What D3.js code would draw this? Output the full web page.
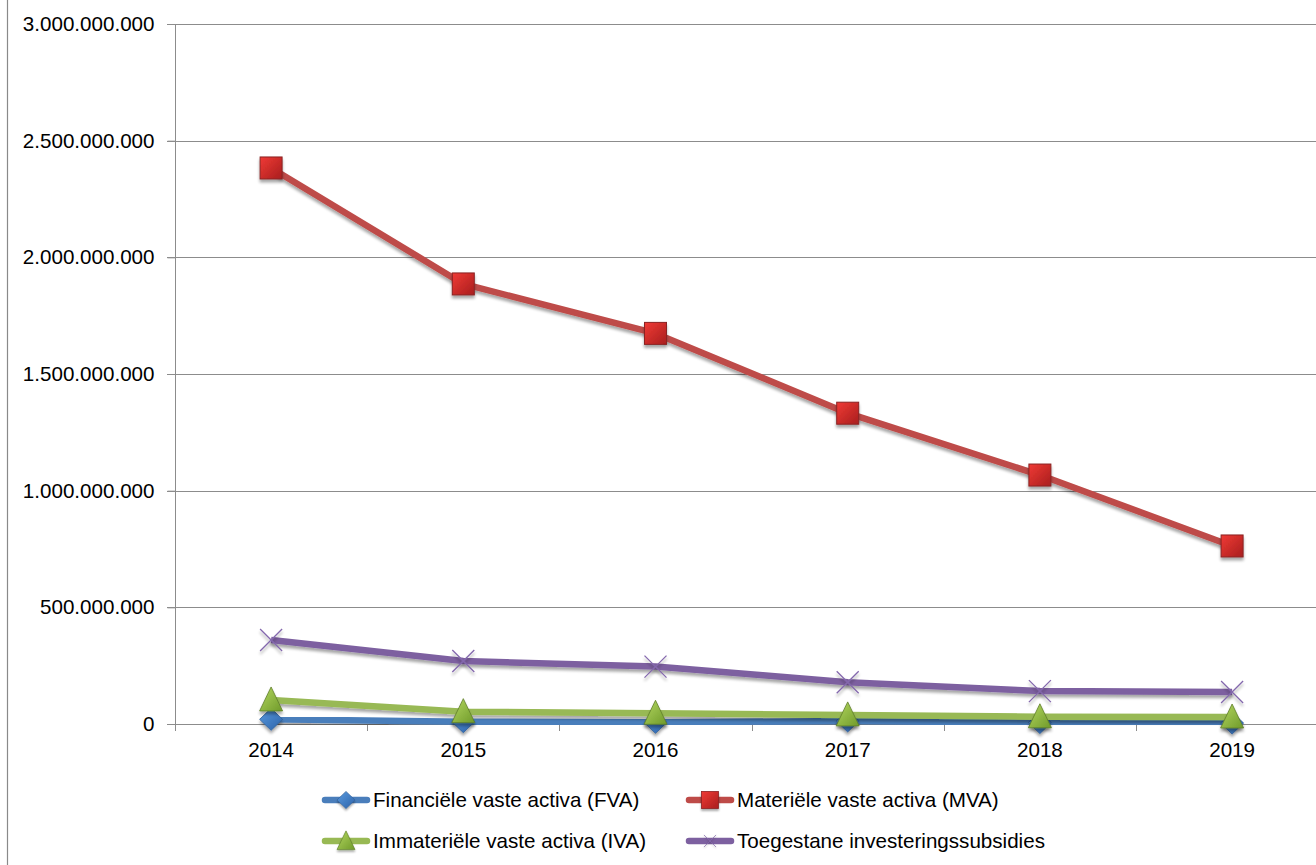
<!DOCTYPE html>
<html>
<head>
<meta charset="utf-8">
<script src="https://cdn.jsdelivr.net/npm/d3@7"></script>
<style>
  html, body { margin: 0; padding: 0; background: #fff; }
  svg { display: block; font-family: "Liberation Sans", Arial, sans-serif; }
</style>
</head>
<body>
<svg id="chart" width="1316" height="865"></svg>
<script>
// ---------- data ----------
const years = ["2014", "2015", "2016", "2017", "2018", "2019"];
const fva = [20000000, 10000000, 7000000, 13000000, 6000000, 4000000];
const mva = [2383000000, 1886000000, 1674000000, 1332000000, 1067000000, 763000000];
const iva = [103000000, 53000000, 46000000, 39000000, 31000000, 30000000];
const subsidies = [360000000, 270000000, 246000000, 179000000, 141000000, 137000000];
const yTicks = [0, 500000000, 1000000000, 1500000000, 2000000000, 2500000000, 3000000000];
const seriesNames = ["Financiële vaste activa (FVA)", "Materiële vaste activa (MVA)", "Immateriële vaste activa (IVA)", "Toegestane investeringssubsidies"];

// ---------- setup ----------
const svg = d3.select("#chart");
const W = 1316, H = 865;
const plotLeft = 175, plotTop = 24, plotBottom = 724;
const band = 192.2;
const FS = 20.6;

const x = d3.scaleBand().domain(years).range([plotLeft, plotLeft + band * years.length]).paddingInner(0).paddingOuter(0);
const y = d3.scaleLinear().domain([0, 3000000000]).range([plotBottom, plotTop]);
const nl = d3.formatLocale({decimal: ",", thousands: ".", grouping: [3], currency: ["", ""]});
const fmt = nl.format(",d");

const defs = svg.append("defs");
const sh = defs.append("filter").attr("id", "shadow").attr("x", "-50%").attr("y", "-50%").attr("width", "200%").attr("height", "200%");
sh.append("feGaussianBlur").attr("in", "SourceAlpha").attr("stdDeviation", 1.6);
sh.append("feOffset").attr("dx", 0).attr("dy", 2.5).attr("result", "ob");
sh.append("feComponentTransfer").append("feFuncA").attr("type", "linear").attr("slope", 0.35);
const fm = sh.append("feMerge"); fm.append("feMergeNode"); fm.append("feMergeNode").attr("in", "SourceGraphic");

function grad(id, c1, c2) {
  const g = defs.append("linearGradient").attr("id", id).attr("x1", "0").attr("y1", "0").attr("x2", "1").attr("y2", "1");
  g.append("stop").attr("offset", "0%").attr("stop-color", c1);
  g.append("stop").attr("offset", "100%").attr("stop-color", c2);
}
grad("gRed", "#f03a35", "#a81e1e");
grad("gBlue", "#5a9be0", "#2c62a8");
grad("gGreen", "#b4d760", "#6f9a2a");

// left border
svg.append("line").attr("x1", 7.5).attr("x2", 7.5).attr("y1", 0).attr("y2", H).attr("stroke", "#8a8a8a").attr("stroke-width", 1.2);

// gridlines
svg.append("g").selectAll("line").data(yTicks).join("line")
  .attr("x1", plotLeft - 8).attr("x2", W)
  .attr("y1", d => Math.round(y(d)) + 0.5).attr("y2", d => Math.round(y(d)) + 0.5)
  .attr("stroke", "#8c8c8c").attr("stroke-width", 1);

// y axis
const yAxis = d3.axisLeft(y).tickValues(yTicks).tickFormat(fmt).tickSize(8).tickPadding(13);
const gy = svg.append("g").attr("transform", `translate(${plotLeft + 0.5},0)`).call(yAxis);
gy.select(".domain").remove();
gy.selectAll(".tick line").attr("stroke", "#8c8c8c");
gy.selectAll("text").attr("font-size", FS).attr("fill", "#000").attr("font-family", "Liberation Sans, Arial, sans-serif");
svg.append("line").attr("x1", plotLeft + 0.5).attr("x2", plotLeft + 0.5).attr("y1", plotTop).attr("y2", plotBottom + 7).attr("stroke", "#8c8c8c");

// x axis labels
const xAxis = d3.axisBottom(x).tickSize(0).tickPadding(18);
const gx = svg.append("g").attr("transform", `translate(0,${plotBottom})`).call(xAxis);
gx.select(".domain").remove();
gx.selectAll("text").attr("font-size", FS).attr("fill", "#000").attr("font-family", "Liberation Sans, Arial, sans-serif");
// x boundary ticks
svg.append("g").selectAll("line").data(years.slice(1)).join("line")
  .attr("x1", d => Math.round(x(d)) + 0.5).attr("x2", d => Math.round(x(d)) + 0.5)
  .attr("y1", plotBottom).attr("y2", plotBottom + 7).attr("stroke", "#8c8c8c");

// ---------- series ----------
const cx = d => x(d) + x.bandwidth() / 2;
const series = [
  {name: seriesNames[0], values: fva, color: "#4a7ebb", marker: "diamond"},
  {name: seriesNames[1], values: mva, color: "#be4b48", marker: "square"},
  {name: seriesNames[2], values: iva, color: "#98b954", marker: "triangle"},
  {name: seriesNames[3], values: subsidies, color: "#7d60a0", marker: "x"}
];

function drawMarker(g, type, px, py, scale = 1) {
  const m = g.append("g").attr("transform", `translate(${px},${py}) scale(${scale})`).attr("filter", "url(#shadow)");
  if (type === "square") {
    m.append("rect").attr("x", -11).attr("y", -11).attr("width", 22).attr("height", 22)
      .attr("fill", "url(#gRed)").attr("stroke", "#8a2323").attr("stroke-width", 1);
  } else if (type === "diamond") {
    m.append("path").attr("d", "M0,-11 L11.5,0 L0,11 L-11.5,0 Z")
      .attr("fill", "url(#gBlue)").attr("stroke", "#2f5e98").attr("stroke-width", 0.8);
  } else if (type === "triangle") {
    m.append("path").attr("d", "M0,-13 L11.5,11 L-11.5,11 Z")
      .attr("fill", "url(#gGreen)").attr("stroke", "#5f7f2a").attr("stroke-width", 0.8);
  } else if (type === "x") {
    m.append("path").attr("d", "M-11,-11 L11,11 M-11,11 L11,-11")
      .attr("stroke", "#8468ad").attr("stroke-width", 1.3).attr("fill", "none");
  }
}

const line = d3.line().x((d, i) => cx(years[i])).y(d => y(d));
series.forEach(s => {
  const g = svg.append("g");
  g.append("path").datum(s.values).attr("d", line)
    .attr("fill", "none").attr("stroke", s.color).attr("stroke-width", 6.5)
    .attr("stroke-linejoin", "round").attr("stroke-linecap", "butt")
    .attr("filter", "url(#shadow)");
  s.values.forEach((v, i) => drawMarker(g, s.marker, cx(years[i]), y(v)));
});

// ---------- legend ----------
const legendPos = [
  {lx: 322, ly: 800}, {lx: 686, ly: 800},
  {lx: 322, ly: 841}, {lx: 686, ly: 841}
];
series.forEach((s, i) => {
  const p = legendPos[i];
  const g = svg.append("g");
  g.append("line").attr("x1", p.lx + 3).attr("x2", p.lx + 45).attr("y1", p.ly).attr("y2", p.ly)
    .attr("stroke", s.color).attr("stroke-width", 6.5).attr("stroke-linecap", "round");
  drawMarker(g, s.marker, p.lx + 24, p.ly, s.marker === "x" ? 0.55 : 0.78);
  g.append("text").attr("x", p.lx + 51).attr("y", p.ly).attr("dy", "0.35em")
    .attr("font-size", FS).attr("fill", "#000").text(s.name);
});
</script>
</body>
</html>
